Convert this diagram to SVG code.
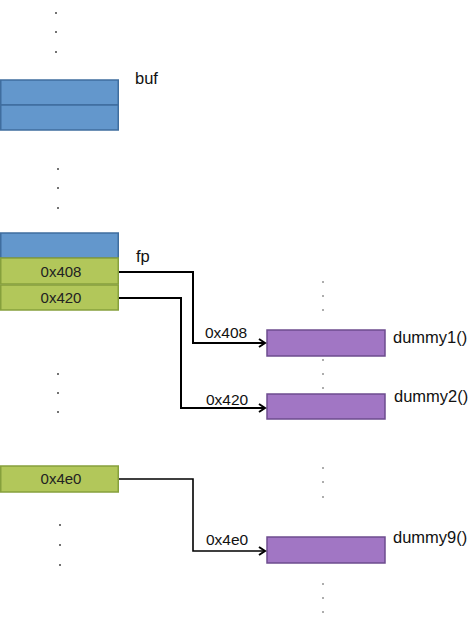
<svg xmlns="http://www.w3.org/2000/svg" width="474" height="617" viewBox="0 0 474 617">
<defs>
<style>
.blue{fill:#6397cc;stroke:#3f6d9e;stroke-width:1.5}
.green{fill:#b2c75a;stroke:#86a03c;stroke-width:1.5}
.purple{fill:#a176c4;stroke:#6d4c8e;stroke-width:1.5}
.dot{fill:#444}
.t{font-family:"Liberation Sans",Arial,sans-serif;fill:#111}
.bt{font-family:"Liberation Sans",Arial,sans-serif;font-size:15px;fill:#222;text-anchor:middle}
.wire{fill:none;stroke:#000;stroke-width:2}
</style>
<marker id="arr" markerWidth="10" markerHeight="10" refX="8" refY="5" orient="auto" markerUnits="userSpaceOnUse">
<polyline points="2,1 8,5 2,9" fill="none" stroke="#000" stroke-width="2"/>
</marker>
</defs>
<rect width="474" height="617" fill="#fff"/>
<g id="dots">
<circle class="dot" cx="56" cy="13" r="1"/><circle class="dot" cx="56" cy="32" r="1"/><circle class="dot" cx="56" cy="52" r="1"/>
<circle class="dot" cx="58" cy="169" r="1"/><circle class="dot" cx="58" cy="188" r="1"/><circle class="dot" cx="58" cy="208" r="1"/>
<circle class="dot" cx="58" cy="374" r="1"/><circle class="dot" cx="58" cy="393" r="1"/><circle class="dot" cx="58" cy="412" r="1"/>
<circle class="dot" cx="60" cy="525" r="1"/><circle class="dot" cx="60" cy="545" r="1"/><circle class="dot" cx="60" cy="565" r="1"/>
<circle class="dot" cx="323" cy="282" r="0.8"/><circle class="dot" cx="323" cy="296" r="0.8"/><circle class="dot" cx="323" cy="310" r="0.8"/>
<circle class="dot" cx="323" cy="360" r="0.8"/><circle class="dot" cx="323" cy="374" r="0.8"/><circle class="dot" cx="323" cy="388" r="0.8"/>
<circle class="dot" cx="323" cy="468" r="0.8"/><circle class="dot" cx="323" cy="482" r="0.8"/><circle class="dot" cx="323" cy="497" r="0.8"/>
<circle class="dot" cx="323" cy="584" r="0.8"/><circle class="dot" cx="323" cy="598" r="0.8"/><circle class="dot" cx="323" cy="612" r="0.8"/>
</g>
<g id="buf">
<rect class="blue" x="0.75" y="80" width="117.5" height="25"/>
<rect class="blue" x="0.75" y="105" width="117.5" height="25"/>
<text class="t" x="135" y="84" font-size="16.5">buf</text>
</g>
<g id="fpblock">
<rect class="blue" x="0.75" y="233" width="117.5" height="25"/>
<text class="t" x="136" y="262" font-size="16.5">fp</text>
</g>
<g id="slot408">
<rect class="green" x="0.75" y="258" width="117.5" height="26"/>
<text class="bt" x="61" y="277">0x408</text>
</g>
<g id="slot420">
<rect class="green" x="0.75" y="285" width="117.5" height="25"/>
<text class="bt" x="61" y="303">0x420</text>
</g>
<g id="slot4e0">
<rect class="green" x="0.75" y="466" width="117.5" height="26"/>
<text class="bt" x="61" y="484">0x4e0</text>
</g>
<g id="dummy1">
<rect class="purple" x="267" y="330" width="118" height="26"/>
<text class="t" x="393" y="343" font-size="16.5">dummy1()</text>
</g>
<g id="dummy2">
<rect class="purple" x="267" y="394" width="118" height="25"/>
<text class="t" x="394" y="402" font-size="16.5">dummy2()</text>
</g>
<g id="dummy9">
<rect class="purple" x="267" y="537" width="118" height="26"/>
<text class="t" x="393" y="543" font-size="16.5">dummy9()</text>
</g>
<g id="connectors">
<polyline class="wire" points="119,272 193,272 193,343 265,343" marker-end="url(#arr)"/>
<polyline class="wire" points="119,298 181,298 181,408 265,408" marker-end="url(#arr)"/>
<polyline class="wire" points="119,479 193,479 193,551 265,551" style="stroke-width:1.6" marker-end="url(#arr)"/>
<text class="t" x="205" y="338" font-size="15.5">0x408</text>
<text class="t" x="206" y="405" font-size="15.5">0x420</text>
<text class="t" x="206" y="545" font-size="15.5">0x4e0</text>
</g>
</svg>
